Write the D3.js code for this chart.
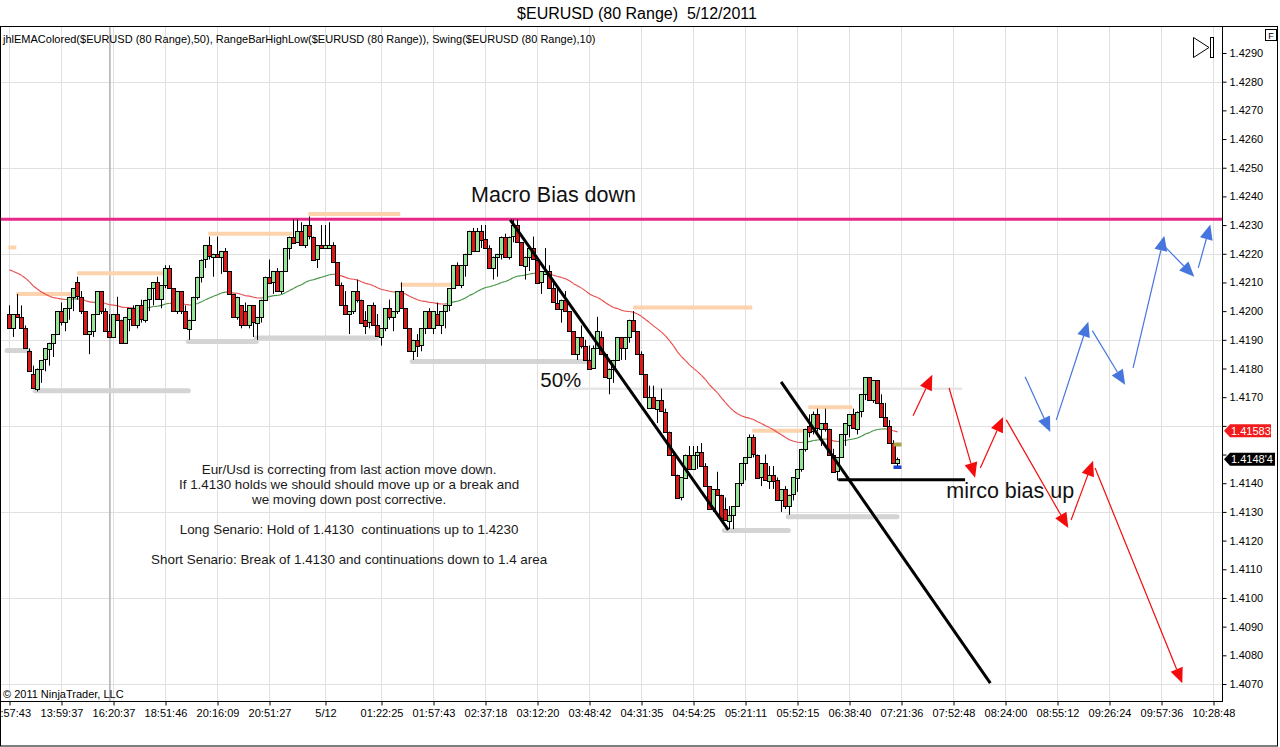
<!DOCTYPE html>
<html>
<head>
<meta charset="utf-8">
<title>$EURUSD (80 Range) 5/12/2011</title>
<script src="https://cdnjs.cloudflare.com/ajax/libs/d3/7.8.5/d3.min.js"></script>
<style>
  html, body { margin: 0; padding: 0; background: #fff; }
  svg { display: block; font-family: "Liberation Sans", Arial, sans-serif; }
  .pre { white-space: pre; }
</style>
</head>
<body>
<svg id="chart" width="1280" height="747"></svg>
<script>
// all prices in pips above 1.4000 (199 -> 1.4199)
// bars: [open, high, low, close], one per 80-tick range bar
var bars = [
    [199,202,194,194],[194,199,191,199],[199,206,198,198],[198,202,194,194],[194,195,187,187],
    [186,187,179,179],[178,181,173,173],[173,180,172,180],[180,183,175,183],[183,187,179,187],
    [187,189,181,189],[189,192,184,192],[192,200,192,200],[200,203,195,196],[196,201,193,201],
    [201,205,197,205],[205,208,200,208],[210,212,204,205],[205,207,199,200],[200,200,192,192],
    [192,193,185,193],[193,199,191,199],[199,207,199,207],[207,207,199,200],[200,201,193,193],
    [193,199,191,191],[191,199,191,199],[199,205,197,197],[197,197,189,189],[189,198,189,198],
    [197,201,193,201],[201,202,195,195],[195,202,194,202],[202,204,196,197],[197,204,196,204],
    [204,208,200,208],[208,210,202,210],[210,212,204,204],[204,209,201,209],[209,216,208,215],
    [215,216,208,208],[208,208,200,200],[200,207,199,207],[207,207,199,200],[200,202,194,194],
    [194,197,190,197],[197,205,197,205],[205,212,204,212],[212,218,210,218],[218,223,215,223],
    [223,226,218,219],[219,220,212,220],[220,226,219,219],[219,221,213,221],[221,222,214,214],
    [214,214,206,206],[206,206,198,198],[198,205,197,205],[202,202,194,195],[200,203,195,195],
    [195,202,194,202],[202,202,191,196],[196,198,190,198],[198,204,196,204],[204,212,204,212],
    [212,218,210,210],[210,214,206,214],[214,215,207,207],[207,214,206,214],[214,222,214,222],
    [222,226,218,226],[226,232,224,224],[224,232,224,228],[228,231,223,223],[223,230,222,230],
    [230,233,225,226],[226,226,218,218],[218,223,215,223],[223,230,222,222],[222,230,222,223],
    [222,231,222,223],[223,224,217,217],[217,217,209,209],[209,210,202,202],[202,207,199,199],
    [199,200,192,200],[200,207,199,207],[207,211,203,204],[204,204,196,196],[197,200,192,195],
    [196,202,194,202],[202,203,195,195],[195,199,191,191],[191,194,188,194],[194,201,193,201],
    [201,204,197,198],[198,200,193,200],[200,207,199,207],[207,210,201,201],[201,201,194,194],
    [194,194,186,186],[186,190,183,190],[190,192,184,188],[188,194,186,194],[194,200,192,200],
    [200,201,194,194],[194,200,192,200],[199,203,195,195],[195,200,192,200],[200,202,194,202],
    [202,208,200,208],[208,216,208,216],[216,217,209,209],[209,216,208,216],[216,220,212,220],
    [220,228,220,228],[228,229,221,221],[221,229,221,228],[228,230,222,225],[225,230,222,222],
    [222,223,215,215],[215,219,211,219],[219,220,212,220],[220,226,218,226],[226,227,219,219],
    [219,226,218,226],[226,232,224,230],[230,232,224,224],[224,224,216,216],[216,219,211,219],
    [219,222,214,222],[222,226,218,218],[218,218,210,210],[210,214,206,214],[213,222,213,214],
    [214,216,208,208],[208,211,203,203],[203,209,201,201],[201,204,196,204],[204,207,200,200],
    [200,200,193,193],[193,193,185,185],[185,191,183,191],[191,195,187,188],[188,190,183,183],
    [183,188,180,180],[180,188,180,187],[187,198,187,193],[191,193,185,185],[185,185,177,177],
    [177,180,171,180],[180,183,175,183],[183,191,183,191],[191,191,183,187],[187,191,183,191],
    [191,197,189,197],[197,200,193,193],[193,193,185,185],[185,186,178,178],[178,178,170,170],
    [166,174,166,170],[170,174,166,166],[166,169,161,169],[169,173,165,165],[165,166,158,158],
    [158,158,150,150],[150,151,143,143],[143,143,135,135],[135,142,134,142],[142,150,142,150],
    [150,153,145,145],[145,153,145,150],[150,153,145,151],[151,154,146,146],[146,147,139,139],
    [139,139,131,131],[131,138,130,138],[138,144,136,136],[136,136,128,128],[131,135,127,127],
    [127,132,124,129],[129,132,124,132],[132,140,132,140],[140,147,139,147],[147,149,141,149],
    [149,157,149,156],[156,157,149,150],[150,150,142,142],[142,147,139,147],[147,150,141,141],
    [141,146,138,143],[143,146,138,141],[141,142,134,134],[134,138,130,138],[138,139,131,132],
    [132,136,129,136],[136,142,134,142],[142,145,137,145],[145,152,144,152],[152,159,151,159],
    [160,164,156,158],[158,165,157,164],[164,166,158,159],[159,161,153,161],[161,166,158,159],
    [159,159,150,150],[150,152,144,144],[144,149,141,149],[149,157,149,157],[157,161,153,161],
    [160,164,156,164],[164,166,159,159],[159,165,157,165],[165,171,163,171],[171,177,169,177],
    [177,177,169,169],[169,176,168,176],[176,176,168,168],[168,171,163,163],[163,168,160,160],
    [160,162,154,154],[154,155,147,147],[147,149,146,148.4]
];

var timeTicks = [0, 13, 26, 39, 52, 65, 79, 93, 106, 119, 132, 145, 158, 171, 184, 197, 210, 223, 236, 249, 262, 275, 288, 301];
var timeLabels = ['11:57:43', '13:59:37', '16:20:37', '18:51:46', '20:16:09', '20:51:27', '5/12', '01:22:25',
    '01:57:43', '02:37:18', '03:12:20', '03:48:42', '04:31:35', '04:54:25', '05:21:11', '05:52:15', '06:38:40',
    '07:21:36', '07:52:48', '08:24:00', '08:55:12', '09:26:24', '09:57:36', '10:28:48'];
var sessionBreaks = [25.1];

var priceTicks = [70, 80, 90, 100, 110, 120, 130, 140, 150, 160, 170, 180, 190, 200, 210, 220, 230, 240, 250, 260, 270, 280, 290];
var gridPrices = [70, 100, 130, 160, 190, 220, 250, 280];

// swing lines: [from bar, to bar, price]
var swingHighs = [[-0.3, 1.7, 222.2], [1.7, 15.4, 206.0], [16.9, 38.7, 213.2], [49.7, 70.7, 227.0],
    [74.7, 97.7, 233.9], [97.7, 110.4, 209.2], [155.9, 185.7, 201.3], [185.7, 198.9, 158.3], [199.7, 210.7, 166.5]];
var swingLows = [[-0.6, 4.7, 186.3], [6.4, 44.7, 172.2], [44.7, 61.7, 189.4], [61.7, 91.7, 190.6],
    [100.7, 144.9, 182.4], [178.7, 194.7, 123.5], [194.7, 221.9, 128.3]];
var halfwayLine = [139.4, 238.2, 172.9];

var emaPeriod = 50;
var emaSeed = 215.3;

// drawn objects: [bar1, price1, bar2, price2]
var biasLevel = 232.0;
var trendLines = [[125.2, 231.8, 179.7, 123.7], [192.9, 175.3, 245.2, 70.3], [207.2, 141.2, 238.9, 141.2]];
var redArrows = [[225.9, 163.5, 230.7, 177.8], [234.9, 173.2, 241.4, 141.9], [242.7, 145.3, 248.4, 163.1],
    [249.2, 162.1, 264.7, 124.4], [265.4, 127.2, 270.9, 147.8], [271.4, 145.3, 293.2, 70.3]];
var blueArrows = [[253.9, 177.1, 260.2, 157.9], [261.7, 162.1, 269.7, 196.3], [270.7, 193.2, 278.9, 174.3],
    [280.9, 180.2, 288.7, 226.3], [288.9, 222.4, 296.2, 212.0], [297.2, 215.1, 300.2, 230.2]];

// range bar projection of the open bar: [bar, price]
var projHigh = [222, 153.5];
var projLow = [222, 145.5];

var emaTag = {price: 158.3, label: '1.41583'};
var lastTag = {price: 148.4, label: "1.4148'4"};

var labels = [
    {bar: 115.4, price: 238.1, text: 'Macro Bias down', size: 21.5},
    {bar: 132.7, price: 173.6, text: '50%', size: 20.5},
    {bar: 234.2, price: 134.9, text: 'mirco bias up', size: 21.5}
];
var noteAnchor = {bar: 84.9, price: 143.2};
var noteLines = [
    'Eur/Usd is correcting from last action move down.',
    'If 1.4130 holds we should should move up or a break and',
    'we moving down post corrective.',
    '',
    'Long Senario: Hold of 1.4130  continuations up to 1.4230',
    '',
    'Short Senario: Break of 1.4130 and continuations down to 1.4 area'
];

var title = '$EURUSD (80 Range)  5/12/2011';
var indicatorText = 'jhlEMAColored($EURUSD (80 Range),50), RangeBarHighLow($EURUSD (80 Range)), Swing($EURUSD (80 Range),10)';


var PLOT_RIGHT = 1222, PLOT_TOP = 26, PLOT_BOTTOM = 701;

var svg = d3.select('#chart');
var x = d3.scaleLinear().domain([0, 300]).range([9.5, 1209.5]);
var y = d3.scaleLinear().domain([70, 290]).range([684, 53]);

function priceFmt(d) {
    return (1.4 + d / 10000).toFixed(4);
}

svg.append('rect').attr('width', 1280).attr('height', 747).attr('fill', '#fff');

svg.append('text')
    .attr('x', 637).attr('y', 19)
    .attr('text-anchor', 'middle')
    .style('font-size', '16px')
    .attr('class', 'pre')
    .text(title);

svg.append('defs').append('clipPath').attr('id', 'plotClip')
    .append('rect').attr('x', 0).attr('y', PLOT_TOP).attr('width', PLOT_RIGHT).attr('height', PLOT_BOTTOM - PLOT_TOP);

// grid
var grid = svg.append('g').attr('clip-path', 'url(#plotClip)');
grid.selectAll('line.v').data(timeTicks).enter().append('line')
    .attr('x1', function (d) { return x(d); }).attr('x2', function (d) { return x(d); })
    .attr('y1', PLOT_TOP).attr('y2', PLOT_BOTTOM)
    .attr('stroke', '#e0e0e0');
grid.selectAll('line.h').data(gridPrices).enter().append('line')
    .attr('x1', 0).attr('x2', PLOT_RIGHT)
    .attr('y1', function (d) { return Math.round(y(d)) + 0.5; })
    .attr('y2', function (d) { return Math.round(y(d)) + 0.5; })
    .attr('stroke', '#e0e0e0');
grid.selectAll('line.s').data(sessionBreaks).enter().append('line')
    .attr('x1', function (d) { return x(d); }).attr('x2', function (d) { return x(d); })
    .attr('y1', PLOT_TOP).attr('y2', PLOT_BOTTOM)
    .attr('stroke', '#b4b4b4').attr('stroke-width', 1.6);

var plot = svg.append('g').attr('clip-path', 'url(#plotClip)');

// swing levels
plot.append('line')
    .attr('x1', x(halfwayLine[0])).attr('x2', x(halfwayLine[1]))
    .attr('y1', y(halfwayLine[2])).attr('y2', y(halfwayLine[2]))
    .attr('stroke', '#e6e6e6').attr('stroke-width', 2.5);
plot.selectAll('line.sh').data(swingHighs).enter().append('line')
    .attr('x1', function (d) { return x(d[0]); }).attr('x2', function (d) { return x(d[1]); })
    .attr('y1', function (d) { return y(d[2]); }).attr('y2', function (d) { return y(d[2]); })
    .attr('stroke', '#fdd3ae').attr('stroke-width', 4);
plot.selectAll('line.sl').data(swingLows).enter().append('line')
    .attr('x1', function (d) { return x(d[0]); }).attr('x2', function (d) { return x(d[1]); })
    .attr('y1', function (d) { return y(d[2]); }).attr('y2', function (d) { return y(d[2]); })
    .attr('stroke', '#d4d4d4').attr('stroke-width', 5).attr('stroke-linecap', 'round');

// macro bias line
plot.append('line')
    .attr('x1', 0).attr('x2', PLOT_RIGHT)
    .attr('y1', y(biasLevel)).attr('y2', y(biasLevel))
    .attr('stroke', '#e6288a').attr('stroke-width', 3);

// EMA(50), green while price is above it, red while below
var ema = [];
var alpha = 2 / (emaPeriod + 1);
var prev = emaSeed;
bars.forEach(function (b) {
    prev = prev + alpha * (b[3] - prev);
    ema.push(prev);
});
var emaSegs = d3.range(1, bars.length).map(function (i) {
    return {i: i, up: bars[i][3] >= ema[i]};
});
plot.selectAll('line.ema').data(emaSegs).enter().append('line')
    .attr('x1', function (d) { return x(d.i - 1); })
    .attr('y1', function (d) { return y(ema[d.i - 1]); })
    .attr('x2', function (d) { return x(d.i); })
    .attr('y2', function (d) { return y(ema[d.i]); })
    .attr('stroke', function (d) { return d.up ? '#3a8f3a' : '#e84646'; })
    .attr('stroke-width', 1.1);

// candles: 4px slots, neighbouring bodies share their outline
var candle = plot.selectAll('g.bar').data(bars).enter().append('g');
candle.append('line')
    .attr('x1', function (d, i) { return x(i); }).attr('x2', function (d, i) { return x(i); })
    .attr('y1', function (d) { return y(d[1]); }).attr('y2', function (d) { return y(d[2]); })
    .attr('stroke', '#000');
candle.append('rect')
    .attr('x', function (d, i) { return x(i) - 2; })
    .attr('width', 4)
    .attr('y', function (d) { return Math.round(y(Math.max(d[0], d[3]))) + 0.5; })
    .attr('height', function (d) { return Math.max(1, Math.round(Math.abs(y(d[0]) - y(d[3])))); })
    .attr('fill', function (d) { return d[3] >= d[0] ? '#96e496' : '#dc1818'; })
    .attr('stroke', '#000').attr('stroke-width', 1);

plot.append('rect')
    .attr('x', x(projHigh[0]) - 4).attr('y', y(projHigh[1]) - 2)
    .attr('width', 8).attr('height', 4).attr('fill', '#a8a44a');
plot.append('rect')
    .attr('x', x(projLow[0]) - 4).attr('y', y(projLow[1]) - 2)
    .attr('width', 8).attr('height', 3.5).attr('fill', '#1f3fd0');

// hand drawn trend lines
plot.selectAll('line.trend').data(trendLines).enter().append('line')
    .attr('x1', function (d) { return x(d[0]); }).attr('y1', function (d) { return y(d[1]); })
    .attr('x2', function (d) { return x(d[2]); }).attr('y2', function (d) { return y(d[3]); })
    .attr('stroke', '#000').attr('stroke-width', 3);

function drawArrow(g, a, color) {
    var x1 = x(a[0]), y1 = y(a[1]), x2 = x(a[2]), y2 = y(a[3]);
    var dx = x2 - x1, dy = y2 - y1;
    var len = Math.sqrt(dx * dx + dy * dy);
    var ux = dx / len, uy = dy / len;
    var head = 15, half = 6.5;
    var bx = x2 - ux * head, by = y2 - uy * head;
    g.append('line')
        .attr('x1', x1).attr('y1', y1).attr('x2', bx).attr('y2', by)
        .attr('stroke', color).attr('stroke-width', 1.2);
    g.append('path')
        .attr('d', 'M' + x2 + ',' + y2 +
            'L' + (bx - uy * half) + ',' + (by + ux * half) +
            'L' + (bx + uy * half) + ',' + (by - ux * half) + 'Z')
        .attr('fill', color);
}
redArrows.forEach(function (a) { drawArrow(plot, a, '#f20c0c'); });
blueArrows.forEach(function (a) { drawArrow(plot, a, '#4775de'); });

// text annotations
plot.selectAll('text.lbl').data(labels).enter().append('text')
    .attr('x', function (d) { return x(d.bar); })
    .attr('y', function (d) { return y(d.price); })
    .style('font-size', function (d) { return d.size + 'px'; }).attr('fill', '#111')
    .text(function (d) { return d.text; });

var note = plot.append('text')
    .attr('x', x(noteAnchor.bar)).attr('y', y(noteAnchor.price))
    .attr('text-anchor', 'middle')
    .attr('class', 'pre')
    .style('font-size', '13.4px').attr('fill', '#1a1a1a');
note.selectAll('tspan').data(noteLines).enter().append('tspan')
    .attr('x', x(noteAnchor.bar))
    .attr('dy', function (d, i) { return i === 0 ? 0 : 15; })
    .text(function (d) { return d === '' ? ' ' : d; });

svg.append('text')
    .attr('x', 3).attr('y', 43)
    .style('font-size', '11px')
    .text(indicatorText);
svg.append('text')
    .attr('x', 3).attr('y', 698)
    .style('font-size', '11px')
    .text('\u00a9 2011 NinjaTrader, LLC');

// axes; labels hidden under the price tags are left out, as on the original
function underTag(d) {
    return [emaTag, lastTag].some(function (t) { return Math.abs(y(t.price) - y(d)) < 10; });
}
var yAxis = svg.append('g')
    .attr('transform', 'translate(' + (PLOT_RIGHT + 0.5) + ',0)')
    .call(d3.axisRight(y).tickValues(priceTicks)
        .tickFormat(function (d) { return underTag(d) ? '' : priceFmt(d); }).tickSize(4));
yAxis.select('.domain').remove();
yAxis.selectAll('text').style('font-size', '11px').attr('fill', '#000')
    .style('font-family', '"Liberation Sans", Arial, sans-serif');

var xAxis = svg.append('g')
    .attr('transform', 'translate(0,' + (PLOT_BOTTOM + 0.5) + ')')
    .call(d3.axisBottom(x).tickValues(timeTicks)
        .tickFormat(function (d, i) { return timeLabels[i]; }).tickSize(4));
xAxis.select('.domain').remove();
xAxis.selectAll('text').style('font-size', '11px').attr('fill', '#000')
    .style('font-family', '"Liberation Sans", Arial, sans-serif')
    .attr('y', 8);

svg.append('line')
    .attr('x1', PLOT_RIGHT + 0.5).attr('x2', PLOT_RIGHT + 0.5)
    .attr('y1', PLOT_TOP).attr('y2', PLOT_BOTTOM + 1)
    .attr('stroke', '#000');
svg.append('line')
    .attr('x1', 0).attr('x2', PLOT_RIGHT + 1)
    .attr('y1', PLOT_BOTTOM + 0.5).attr('y2', PLOT_BOTTOM + 0.5)
    .attr('stroke', '#000');
svg.append('rect')
    .attr('x', 0.5).attr('y', PLOT_TOP + 0.5).attr('width', 1277).attr('height', 719.5)
    .attr('fill', 'none').attr('stroke', '#000');

// price tags on the axis
function drawTag(tag, color) {
    var cy = y(tag.price);
    var right = color === '#000' ? 1275 : 1271;
    svg.append('path')
        .attr('d', 'M' + (PLOT_RIGHT + 2) + ',' + cy + 'L' + (PLOT_RIGHT + 8) + ',' + (cy - 6.5) +
            'L' + right + ',' + (cy - 6.5) + 'L' + right + ',' + (cy + 6.5) +
            'L' + (PLOT_RIGHT + 8) + ',' + (cy + 6.5) + 'Z')
        .attr('fill', color);
    svg.append('text')
        .attr('x', PLOT_RIGHT + 9).attr('y', cy + 4)
        .style('font-size', '11px').attr('fill', '#fff')
        .text(tag.label);
}
drawTag(emaTag, '#f21a1a');
drawTag(lastTag, '#000');

// toolbar glyphs
svg.append('path').attr('d', 'M1193.5,37.5L1209,47.5L1193.5,57.5Z')
    .attr('fill', '#fff').attr('stroke', '#000');
svg.append('rect').attr('x', 1210.5).attr('y', 37.5).attr('width', 3).attr('height', 20)
    .attr('fill', '#fff').attr('stroke', '#000');
svg.append('rect').attr('x', 1265.5).attr('y', 29.5).attr('width', 11).attr('height', 11)
    .attr('fill', '#fff').attr('stroke', '#000');
svg.append('text').attr('x', 1271).attr('y', 38.5).attr('text-anchor', 'middle')
    .style('font-size', '9px').text('F');
</script>
</body>
</html>
